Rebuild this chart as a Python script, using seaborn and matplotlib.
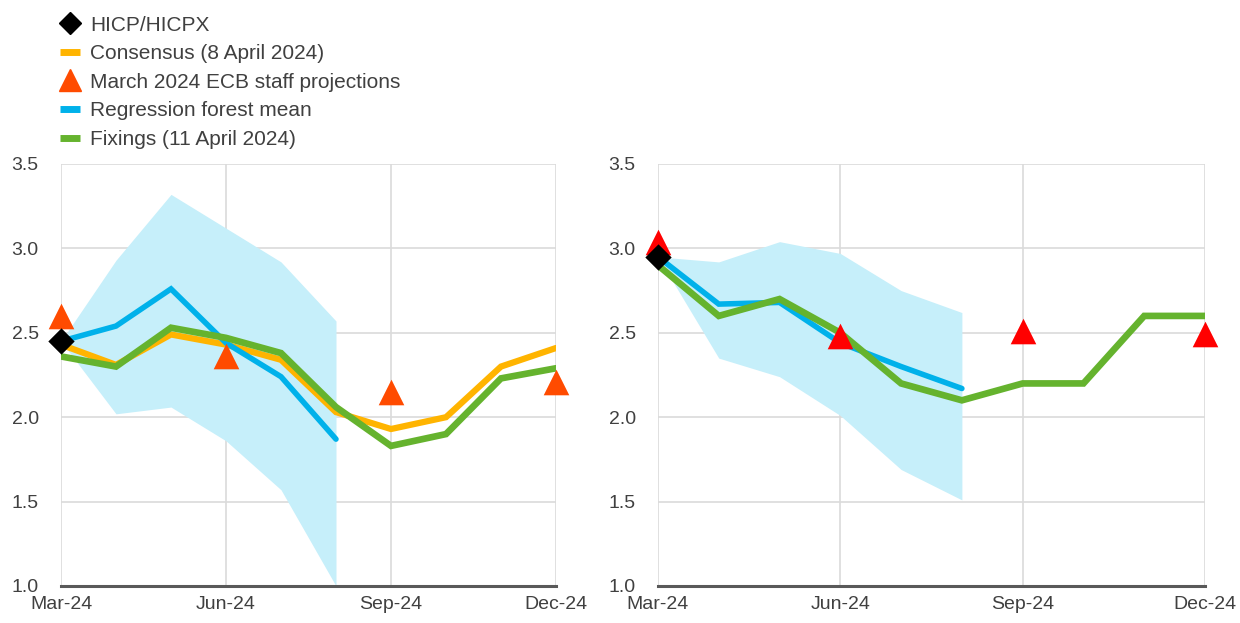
import numpy as np
import pandas as pd
import matplotlib
matplotlib.use("Agg")
import matplotlib.pyplot as plt
from matplotlib.lines import Line2D
import seaborn as sns

# Datos (marzo a diciembre 2024, mensual)
meses = ["Mar-24", "Apr-24", "May-24", "Jun-24", "Jul-24", "Aug-24",
         "Sep-24", "Oct-24", "Nov-24", "Dec-24"]
tick_labels = ["Mar-24", "Jun-24", "Sep-24", "Dec-24"]

# Panel izquierdo
izq_consenso = [2.43, 2.31, 2.49, 2.43, 2.34, 2.03, 1.93, 2.00, 2.30, 2.41]
izq_fixings = [2.36, 2.30, 2.53, 2.47, 2.38, 2.06, 1.83, 1.90, 2.23, 2.29]
izq_forest = [2.45, 2.54, 2.76, 2.44, 2.24, 1.87]
izq_banda_sup = [2.45, 2.93, 3.32, 3.12, 2.92, 2.57]
izq_banda_inf = [2.45, 2.02, 2.06, 1.86, 1.57, 1.00]
izq_ecb_mes = ["Mar-24", "Jun-24", "Sep-24", "Dec-24"]
izq_ecb = [2.60, 2.36, 2.15, 2.21]
izq_hicp = [2.45]

# Panel derecho
der_fixings = [2.90, 2.60, 2.70, 2.50, 2.20, 2.10, 2.20, 2.20, 2.60, 2.60]
der_forest = [2.95, 2.67, 2.68, 2.44, 2.30, 2.17]
der_banda_sup = [2.95, 2.92, 3.04, 2.97, 2.75, 2.62]
der_banda_inf = [2.95, 2.35, 2.24, 2.01, 1.69, 1.51]
der_ecb_mes = ["Mar-24", "Jun-24", "Sep-24", "Dec-24"]
der_ecb = [3.04, 2.48, 2.51, 2.49]
der_hicp = [2.95]

AMARILLO = "#FFB400"
AZUL = "#00B1EA"
VERDE = "#65B32E"
BANDA = "#C6EFFA"
GRIS = "#404040"

sns.set_style("white")
plt.rcParams["font.family"] = ["Liberation Sans", "DejaVu Sans"]

pos = {m: i for i, m in enumerate(meses)}


def panel(ax, consenso, fixings, forest, sup, inf, ecb_mes, ecb, hicp, color_tri):
    x6 = [pos[m] for m in meses[:len(forest)]]
    ax.fill_between(x6, inf, sup, color=BANDA, lw=0, zorder=1)
    if consenso is not None:
        df = pd.DataFrame({"x": range(len(meses)), "y": consenso})
        sns.lineplot(data=df, x="x", y="y", ax=ax, color=AMARILLO, lw=4.5,
                     zorder=3, solid_joinstyle="miter")
    df = pd.DataFrame({"x": x6, "y": forest})
    sns.lineplot(data=df, x="x", y="y", ax=ax, color=AZUL, lw=4, zorder=4,
                 solid_joinstyle="miter")
    df = pd.DataFrame({"x": range(len(meses)), "y": fixings})
    sns.lineplot(data=df, x="x", y="y", ax=ax, color=VERDE, lw=4.8, zorder=5,
                 solid_joinstyle="miter")
    df = pd.DataFrame({"x": [pos[m] for m in ecb_mes], "y": ecb})
    sns.scatterplot(data=df, x="x", y="y", ax=ax, marker="^", s=340,
                    color=color_tri, linewidth=0, zorder=6, clip_on=False)
    df = pd.DataFrame({"x": [0], "y": hicp})
    sns.scatterplot(data=df, x="x", y="y", ax=ax, marker="D", s=180,
                    color="black", linewidth=0, zorder=7, clip_on=False)

    ax.set_xlim(0, 9)
    ax.set_ylim(1.0, 3.5)
    ax.set_xticks([0, 3, 6, 9])
    ax.set_xticklabels(tick_labels)
    ax.set_yticks(np.arange(1.0, 3.51, 0.5))
    ax.set_yticklabels([f"{v:.1f}" for v in np.arange(1.0, 3.51, 0.5)])
    ax.grid(True, color="#DADADA", lw=1.2, zorder=0)
    ax.set_axisbelow(True)
    for s in ["top", "right", "left"]:
        ax.spines[s].set_visible(False)
    ax.spines["bottom"].set_color("#595959")
    ax.spines["bottom"].set_linewidth(2.2)
    ax.spines["bottom"].set_zorder(2)
    ax.tick_params(axis="both", length=0, labelsize=14, colors=GRIS)
    ax.tick_params(axis="y", pad=16)
    ax.tick_params(axis="x", pad=7)
    ax.set_xlabel("")
    ax.set_ylabel("")


fig = plt.figure(figsize=(12.4, 6.23), dpi=100)
ax1 = fig.add_axes([61 / 1240, 1 - 586 / 623, (556 - 61) / 1240, (586 - 164) / 623])
ax2 = fig.add_axes([658 / 1240, 1 - 586 / 623, (1205 - 658) / 1240, (586 - 164) / 623])

panel(ax1, izq_consenso, izq_fixings, izq_forest, izq_banda_sup, izq_banda_inf,
      izq_ecb_mes, izq_ecb, izq_hicp, "#FF4B00")
panel(ax2, None, der_fixings, der_forest, der_banda_sup, der_banda_inf,
      der_ecb_mes, der_ecb, der_hicp, "#FF0000")

handles = [
    Line2D([], [], marker="D", color="black", ls="none", markersize=11),
    Line2D([], [], color=AMARILLO, lw=5, solid_capstyle="butt"),
    Line2D([], [], marker="^", color="#FF4B00", ls="none", markersize=16),
    Line2D([], [], color=AZUL, lw=5, solid_capstyle="butt"),
    Line2D([], [], color=VERDE, lw=5, solid_capstyle="butt"),
]
labels = ["HICP/HICPX", "Consensus (8 April 2024)",
          "March 2024 ECB staff projections", "Regression forest mean",
          "Fixings (11 April 2024)"]
fig.legend(handles, labels, loc="upper left", bbox_to_anchor=(0.036, 1.0),
           frameon=False, fontsize=15, handlelength=0.95, handletextpad=0.5,
           labelspacing=0.46, borderaxespad=0.35, labelcolor=GRIS)

plt.savefig("out.png", dpi=100)
